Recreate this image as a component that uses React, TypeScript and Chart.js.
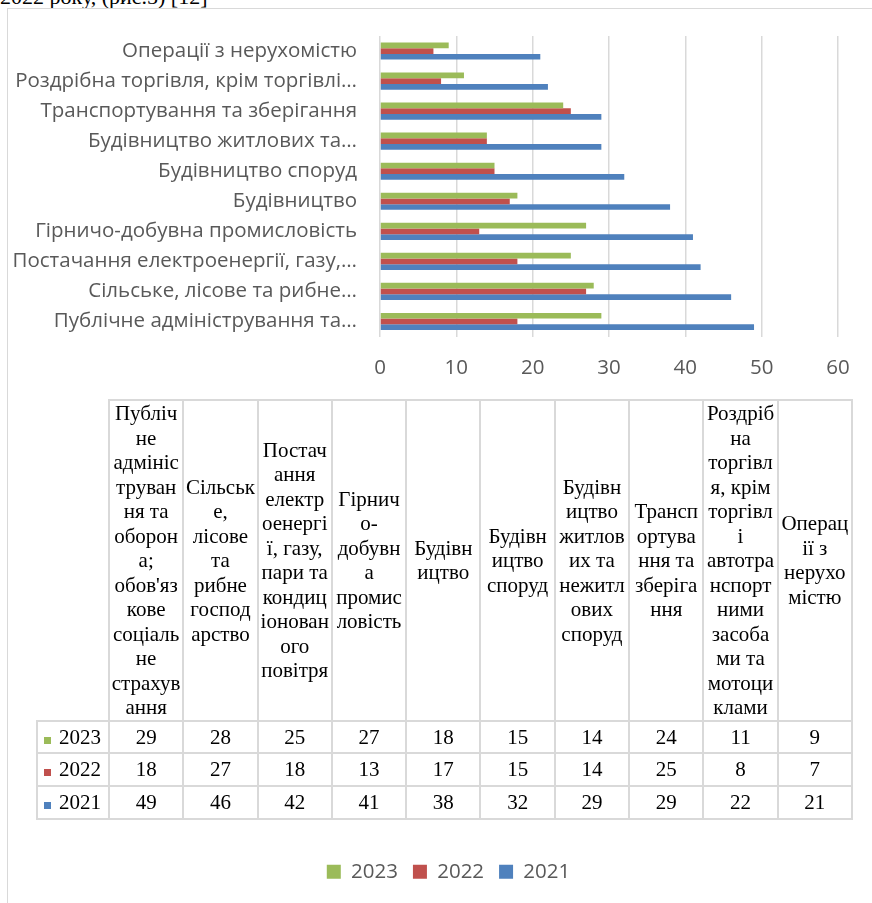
import React, { useEffect, useRef } from "react";
import { Chart, registerables } from "chart.js";

Chart.register(...registerables);

// Employment change by economic activity, 2021–2023
const industries = [
  "Публічне адміністрування та оборона; обов'язкове соціальне страхування",
  "Сільське, лісове та рибне господарство",
  "Постачання електроенергії, газу, пари та кондиціонованого повітря",
  "Гірничо-добувна промисловість",
  "Будівництво",
  "Будівництво споруд",
  "Будівництво житлових та нежитлових споруд",
  "Транспортування та зберігання",
  "Роздрібна торгівля, крім торгівлі автотранспортними засобами та мотоциклами",
  "Операції з нерухомістю",
];

const years = ["2023", "2022", "2021"];
const values2023 = [29, 28, 25, 27, 18, 15, 14, 24, 11, 9];
const values2022 = [18, 27, 18, 13, 17, 15, 14, 25, 8, 7];
const values2021 = [49, 46, 42, 41, 38, 32, 29, 29, 22, 21];
const seriesColors = ["#9BBB59", "#C0504D", "#4F81BD"];

const axisMin = 0;
const axisMax = 60;
const axisStep = 10;

const caption = "2022 року, (рис.5) [12]";

const seriesValues = [values2023, values2022, values2021];

const AXIS_FONT_FAMILY = '"Open Sans", "Noto Sans", sans-serif';
const AXIS_FONT_SIZE = 20.5;
const AXIS_COLOR = "#595959";
const GRID_COLOR = "#d9d9d9";
const LABEL_MAX_WIDTH = 355;

// Shorten long category names at a word boundary, ending with an ellipsis.
let measureCtx: CanvasRenderingContext2D | null = null;
function fitLabel(text: string, maxWidth: number): string {
  if (!measureCtx) measureCtx = document.createElement("canvas").getContext("2d");
  const ctx = measureCtx!;
  ctx.font = `${AXIS_FONT_SIZE}px ${AXIS_FONT_FAMILY}`;
  if (ctx.measureText(text).width <= maxWidth) return text;
  const words = text.split(" ");
  let out = "";
  for (const w of words) {
    const next = out ? out + " " + w : w;
    if (ctx.measureText(next + "…").width > maxWidth) break;
    out = next;
  }
  return out + "…";
}

// Centre the legend across the whole canvas rather than the padded layout box.
const legendAcrossCanvas = {
  id: "legendAcrossCanvas",
  beforeDraw(chart: any) {
    if (chart.legend) {
      chart.legend.left = 0;
      chart.legend.right = chart.width;
    }
  },
};

const serif = '"Liberation Serif", "Times New Roman", serif';
const cellBorder = `2px solid ${GRID_COLOR}`;

export default function App() {
  const canvasRef = useRef<HTMLCanvasElement>(null);

  useEffect(() => {
    const canvas = canvasRef.current;
    if (!canvas) return;
    const axisFont = { family: AXIS_FONT_FAMILY, size: AXIS_FONT_SIZE };
    const chart = new Chart(canvas, {
      type: "bar",
      data: {
        labels: industries,
        datasets: years.map((y, i) => ({
          label: y,
          data: seriesValues[i],
          backgroundColor: seriesColors[i],
          borderWidth: 0,
          categoryPercentage: 0.57,
          barPercentage: 1,
        })),
      },
      options: {
        animation: false,
        responsive: false,
        indexAxis: "y",
        layout: { padding: { top: 27, right: 51, left: 0, bottom: 11 } },
        scales: {
          x: {
            min: axisMin,
            max: axisMax,
            ticks: { stepSize: axisStep, padding: 19, color: AXIS_COLOR, font: axisFont },
            grid: { color: GRID_COLOR, lineWidth: 1.5, drawTicks: false },
            border: { display: false },
            afterFit: (s: any) => {
              s.height = 510;
            },
          },
          y: {
            reverse: true,
            grid: { display: false, drawTicks: false },
            border: { display: false },
            ticks: {
              padding: 23,
              autoSkip: false,
              color: AXIS_COLOR,
              font: axisFont,
              callback: function (this: any, value: any) {
                return fitLabel(this.getLabelForValue(value), LABEL_MAX_WIDTH);
              },
            },
            afterFit: (s: any) => {
              s.width = 372;
              s.paddingTop = 0;
              s.paddingBottom = 0;
            },
          },
        },
        plugins: {
          legend: {
            position: "bottom",
            labels: {
              boxWidth: 14,
              boxHeight: 14,
              padding: 15,
              color: AXIS_COLOR,
              font: axisFont,
            },
          },
          tooltip: { enabled: false },
        },
      },
      plugins: [legendAcrossCanvas],
    } as any);
    return () => chart.destroy();
  }, []);

  return (
    <div
      style={{
        position: "absolute",
        left: 0,
        top: 0,
        width: 872,
        height: 903,
        overflow: "hidden",
        background: "#fff",
      }}
    >
      <div
        style={{
          position: "absolute",
          left: 0,
          top: -14,
          fontFamily: serif,
          fontSize: 22,
          lineHeight: "22px",
          whiteSpace: "nowrap",
          color: "#000",
        }}
      >
        {caption}
      </div>
      <div
        style={{
          position: "absolute",
          left: 7,
          top: 8,
          right: 0,
          bottom: 0,
          borderLeft: `1px solid ${GRID_COLOR}`,
          borderTop: `1px solid ${GRID_COLOR}`,
        }}
      />
      <canvas
        ref={canvasRef}
        width={881}
        height={894}
        style={{ position: "absolute", left: 8, top: 9 }}
      />
      <table
        style={{
          position: "absolute",
          left: 36,
          top: 399,
          width: 815,
          tableLayout: "fixed",
          borderCollapse: "collapse",
          fontFamily: serif,
          fontSize: 21,
          lineHeight: "24.5px",
          color: "#000",
        }}
      >
        <colgroup>
          <col style={{ width: 72 }} />
          {industries.map((_, i) => (
            <col key={i} style={{ width: 74.3 }} />
          ))}
        </colgroup>
        <tbody>
          <tr style={{ height: 316 }}>
            <td
              style={{
                borderTop: "hidden",
                borderLeft: "hidden",
                borderRight: cellBorder,
                borderBottom: cellBorder,
              }}
            />
            {industries.map((name, i) => (
              <td
                key={i}
                style={{
                  border: cellBorder,
                  textAlign: "center",
                  verticalAlign: "middle",
                  overflowWrap: "anywhere",
                  padding: "0 1.5px",
                }}
              >
                {name}
              </td>
            ))}
          </tr>
          {years.map((y, r) => (
            <tr key={y} style={{ height: 32.7 }}>
              <td style={{ border: cellBorder, padding: 0, whiteSpace: "nowrap" }}>
                <span
                  style={{
                    display: "inline-block",
                    width: 7,
                    height: 7,
                    marginLeft: 6,
                    marginRight: 8,
                    background: seriesColors[r],
                  }}
                />
                {y}
              </td>
              {seriesValues[r].map((v, i) => (
                <td
                  key={i}
                  style={{ border: cellBorder, textAlign: "center", padding: 0 }}
                >
                  {v}
                </td>
              ))}
            </tr>
          ))}
        </tbody>
      </table>
    </div>
  );
}
